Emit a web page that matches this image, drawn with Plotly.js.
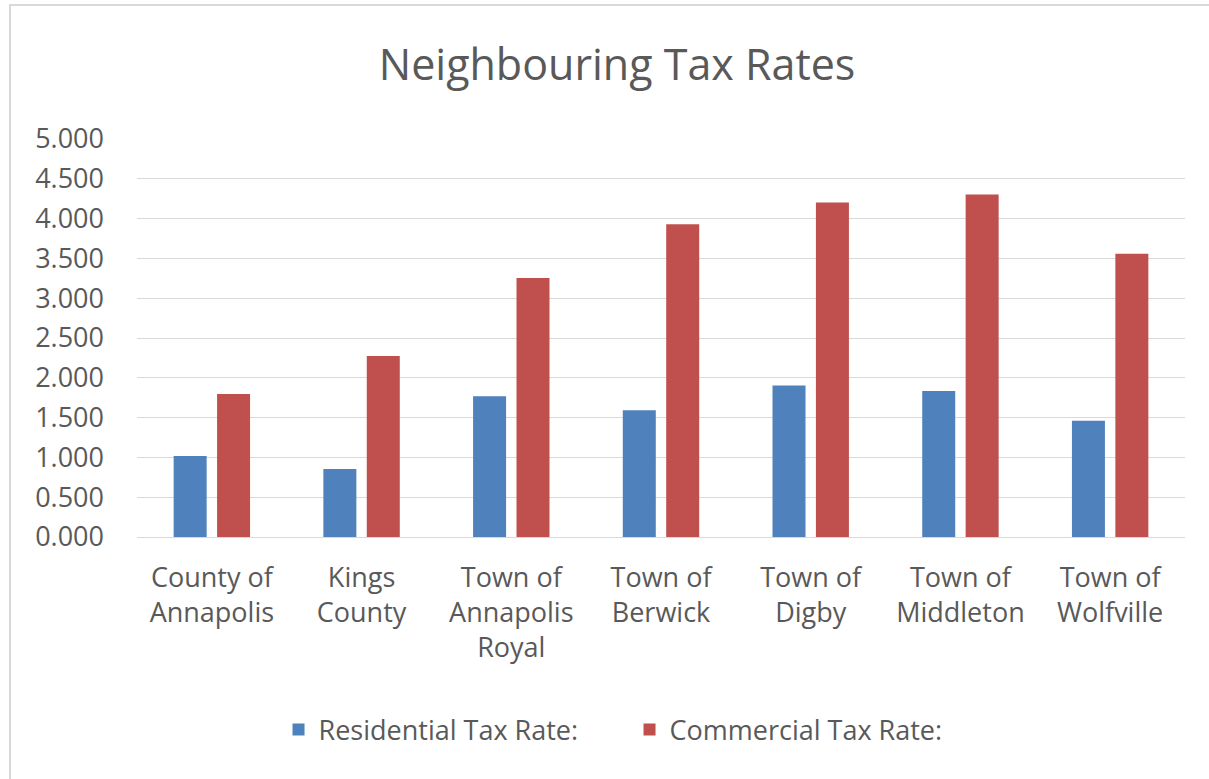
<!DOCTYPE html>
<html>
<head>
<meta charset="utf-8">
<script src="https://cdn.plot.ly/plotly-3.0.1.min.js"></script>
<style>
  html, body { margin: 0; padding: 0; background: #ffffff; }
  #wrap { position: relative; width: 1209px; height: 779px; overflow: hidden; }
  #chart { position: absolute; left: 0; top: 0; width: 1209px; height: 779px; }
  #frame { position: absolute; left: 9px; top: 4px; width: 1300px; height: 900px;
           border: 2px solid #d9d9d9; pointer-events: none; box-sizing: border-box; }
</style>
</head>
<body>
<div id="wrap">
  <div id="chart"></div>
  <div id="frame"></div>
</div>
<script>
const categories = [
  "County of<br>Annapolis",
  "Kings<br>County",
  "Town of<br>Annapolis<br>Royal",
  "Town of<br>Berwick",
  "Town of<br>Digby",
  "Town of<br>Middleton",
  "Town of<br>Wolfville"
];
const residential = [1.017, 0.855, 1.768, 1.593, 1.902, 1.835, 1.460];
const commercial  = [1.797, 2.273, 3.253, 3.928, 4.203, 4.304, 3.557];
const seriesNames = ["Residential Tax Rate:", "Commercial Tax Rate:"];
const yTicks = [0, 0.5, 1, 1.5, 2, 2.5, 3, 3.5, 4, 4.5, 5];

const textColor = "#595959";
const fontFamily = "'Open Sans', 'Noto Sans', sans-serif";

const traces = [
  {
    type: "bar",
    name: seriesNames[0],
    x: categories,
    y: residential,
    marker: { color: "#4f81bd" },
    hoverinfo: "skip"
  },
  {
    type: "bar",
    name: seriesNames[1],
    x: categories,
    y: commercial,
    marker: { color: "#c0504d" },
    hoverinfo: "skip"
  }
];

const layout = {
  width: 1209,
  height: 779,
  paper_bgcolor: "rgba(0,0,0,0)",
  plot_bgcolor: "#ffffff",
  font: { family: fontFamily, color: textColor, size: 27 },
  margin: { l: 137, r: 24, t: 139, b: 242, pad: 0 },
  title: {
    text: "Neighbouring Tax Rates",
    font: { family: fontFamily, size: 43, color: textColor },
    xref: "container",
    x: 0.5104,
    xanchor: "center",
    yref: "container",
    y: 0.917,
    yanchor: "middle"
  },
  barmode: "group",
  bargap: 0.42,
  bargroupgap: 0.24,
  xaxis: {
    type: "category",
    showgrid: false,
    zeroline: false,
    showline: false,
    ticks: "",
    ticklabelstandoff: 22,
    tickfont: { family: fontFamily, size: 27, color: textColor },
    fixedrange: true
  },
  yaxis: {
    range: [0, 5],
    tickvals: yTicks,
    tickformat: ".3f",
    showgrid: true,
    gridcolor: "#d9d9d9",
    gridwidth: 1,
    zeroline: true,
    zerolinecolor: "#d9d9d9",
    zerolinewidth: 1,
    showline: false,
    ticks: "",
    ticklabelstandoff: 32,
    tickfont: { family: fontFamily, size: 27, color: textColor },
    fixedrange: true
  },
  showlegend: true,
  legend: {
    orientation: "h",
    xref: "container",
    x: 0.5207,
    xanchor: "center",
    yref: "container",
    y: 1 - 730 / 779,
    yanchor: "middle",
    entrywidth: 306,
    entrywidthmode: "pixels",
    font: { family: fontFamily, size: 27, color: textColor },
    itemclick: false,
    itemdoubleclick: false,
    bgcolor: "rgba(0,0,0,0)"
  }
};

Plotly.newPlot("chart", traces, layout, { displayModeBar: false, staticPlot: true });
</script>
</body>
</html>
